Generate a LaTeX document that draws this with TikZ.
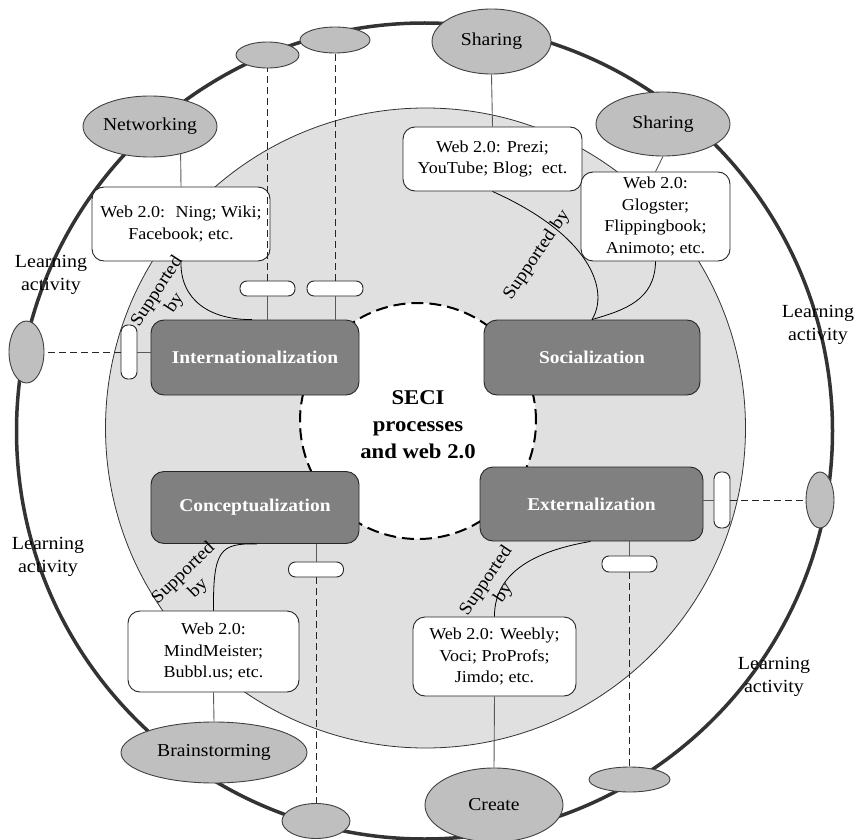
\documentclass[tikz,border=0pt]{standalone}
\usepackage{fontspec}
\setmainfont{Liberation Serif}[FakeStretch=1.08]
\usetikzlibrary{shapes,calc,positioning}
\tikzset{process/.style={
            draw=black!85,
            fill=black!50,
            line width=0.9pt,
            rounded corners=13pt,
            inner sep=0pt,
            text=white,
            font=\fontsize{18}{22}\selectfont\bfseries
        },
        webbox/.style={
            draw=black!85,
            fill=white,
            line width=0.9pt,
            rounded corners=12pt,
            inner sep=0pt,
            align=center,
            font=\fontsize{16.7}{21.7}\selectfont
        },
        activity/.style={
            draw=black!75,
            ellipse,
            fill=black!25,
            line width=0.9pt,
            inner sep=0pt,
            font=\fontsize{18.2}{22}\selectfont
        },
        tooldot/.style={
            draw=black!75,
            ellipse,
            fill=black!25,
            line width=0.9pt,
            inner sep=0pt
        },
        pill/.style={
            draw=black!85,
            fill=white,
            line width=0.9pt,
            rounded corners=7pt,
            inner sep=0pt
        },
        link/.style={
            black!65,
            line width=0.9pt
        },
        toollink/.style={
            black!85,
            line width=0.9pt,
            dash pattern=on 7pt off 4pt
        },
        support/.style={
            black,
            line width=0.8pt
        },
        supportlabel/.style={
            align=center,
            inner sep=0pt,
            font=\fontsize{18}{21}\selectfont
        },
        learning/.style={
            align=center,
            inner sep=0pt,
            font=\fontsize{18.5}{23}\selectfont
        }
    }

\begin{document}
\begin{tikzpicture}[x=1pt,y=-1pt]
    \useasboundingbox (0,0) rectangle (857,840);
    \draw[black!80,line width=3.5pt] (424.5,431) circle (408pt);
    \draw[black!80,fill=black!12,line width=0.8pt] (425.5,428) circle (320pt);
    \draw[black,fill=white,line width=2pt,dash pattern=on 12pt off 6pt] (418,421) circle (118pt);

    \node[align=center,font=\fontsize{21}{27}\selectfont\bfseries] (seci) at (418,424.5) {SECI\\processes\\and web 2.0};

    \node[process,minimum width=208pt,minimum height=75pt] (int) at (255,357.5) {Internationalization};
    \node[process,minimum width=216pt,minimum height=75pt] (soc) at (592,357.5) {Socialization};
    \node[process,minimum width=208pt,minimum height=72pt] (conc) at (255,507.5) {Conceptualization};
    \node[process,minimum width=223pt,minimum height=74pt] (ext) at (591.5,504) {Externalization};

    \node[webbox,minimum width=178pt,minimum height=74pt] (ning) at (181,224) {Web 2.0:~ Ning; Wiki;\\Facebook; etc.};
    \node[webbox,minimum width=179pt,minimum height=64pt] (prezi) at (492.5,159) {Web 2.0: Prezi;\\YouTube; Blog;~ ect.};
    \node[webbox,minimum width=149pt,minimum height=89pt] (glog) at (655.5,216.5) {Web 2.0:\\Glogster;\\Flippingbook;\\Animoto; etc.};
    \node[webbox,minimum width=171pt,minimum height=81pt] (mm) at (213.5,651.5) {Web 2.0:\\MindMeister;\\Bubbl.us; etc.};
    \node[webbox,minimum width=163pt,minimum height=79pt] (weebly) at (494.5,656.5) {Web 2.0: Weebly;\\Voci; ProProfs;\\Jimdo; etc.};

    \node[activity,minimum width=134pt,minimum height=61pt] (net) at (150,126.5) {Networking};
    \node[activity,minimum width=119pt,minimum height=65pt] (share1) at (491.5,41.5) {Sharing};
    \node[activity,minimum width=134pt,minimum height=64pt] (share2) at (663,124) {Sharing};
    \node[activity,minimum width=186pt,minimum height=61pt] (brain) at (214,752.5) {Brainstorming};
    \node[activity,minimum width=138pt,minimum height=74pt] (create) at (494,805) {Create};

    \node[tooldot,minimum width=63pt,minimum height=26pt] (st1) at (267.5,55) {};
    \node[tooldot,minimum width=70pt,minimum height=26pt] (st2) at (335,40) {};
    \node[tooldot,minimum width=35pt,minimum height=62pt] (sl) at (26.5,352) {};
    \node[tooldot,minimum width=28pt,minimum height=56pt] (sr) at (820,500) {};
    \node[tooldot,minimum width=68pt,minimum height=35pt] (sb1) at (316,821) {};
    \node[tooldot,minimum width=81pt,minimum height=25pt] (sb2) at (629.5,779.5) {};

    \node[pill,minimum width=55pt,minimum height=15pt] (p1) at (267.5,288.5) {};
    \node[pill,minimum width=56pt,minimum height=15pt] (p2) at (335,288.5) {};
    \node[pill,minimum width=16pt,minimum height=54pt] (pl) at (129,352) {};
    \node[pill,minimum width=16pt,minimum height=56pt] (pr) at (722,500) {};
    \node[pill,minimum width=55pt,minimum height=16pt] (pb) at (629.5,564) {};
    \node[pill,minimum width=55pt,minimum height=15pt] (pc) at (316,569.5) {};

    \draw[support] (ning.south) .. controls (180,300) and (210,320) .. ([xshift=-3pt]int.north);
    \draw[support] (prezi.south) .. controls (590,235) and (610,290) .. (soc.north);
    \draw[support] (glog.south) .. controls (655,300) and (625,310) .. (soc.north);
    \draw[support] ([xshift=2pt]conc.south) .. controls (220,543) and (213,550) .. (mm.north);
    \draw[support] ([xshift=-1pt]ext.south) .. controls (540,550) and (494,570) .. (weebly.north);

    \node[supportlabel,rotate=57] (sup1) at (166,297.5) {Supported\\by};
    \node[supportlabel,rotate=56] (sup2) at (537,255) {Supported by};
    \node[supportlabel,rotate=44] (sup3) at (191,581) {Supported\\by};
    \node[supportlabel,rotate=56] (sup4) at (495,587) {Supported\\by};

    \draw[link] (net.-42) -- (ning.north);
    \draw[link] (share1.south) -- (prezi.north);
    \draw[link] (share2.south) -- (glog.north);
    \draw[link] (mm.south) -- (brain.north);
    \draw[link] (weebly.south) -- (create.north);

    \draw[link] (int.north -| p1) -- (p1.south);
    \draw[toollink] (p1.north) -- (st1.south);
    \draw[link] (int.north -| p2) -- (p2.south);
    \draw[toollink] (p2.north) -- (st2.south);
    \draw[link] (int.west |- pl) -- (pl.east);
    \draw[toollink] (pl.west) -- (sl.east);
    \draw[link] (ext.east |- pr) -- (pr.west);
    \draw[toollink] (pr.east) -- (sr.west);
    \draw[link] (ext.south -| pb) -- (pb.north);
    \draw[toollink] (pb.south) -- (sb2.north);
    \draw[link] (conc.south -| pc) -- (pc.north);
    \draw[toollink] (pc.south) -- (sb1.north);

    \node[learning] (la1) at (51,275) {Learning\\activity};
    \node[learning] (la2) at (818,325) {Learning\\activity};
    \node[learning] (la3) at (48,557) {Learning\\activity};
    \node[learning] (la4) at (774,677) {Learning\\activity};
\end{tikzpicture}
\end{document}
